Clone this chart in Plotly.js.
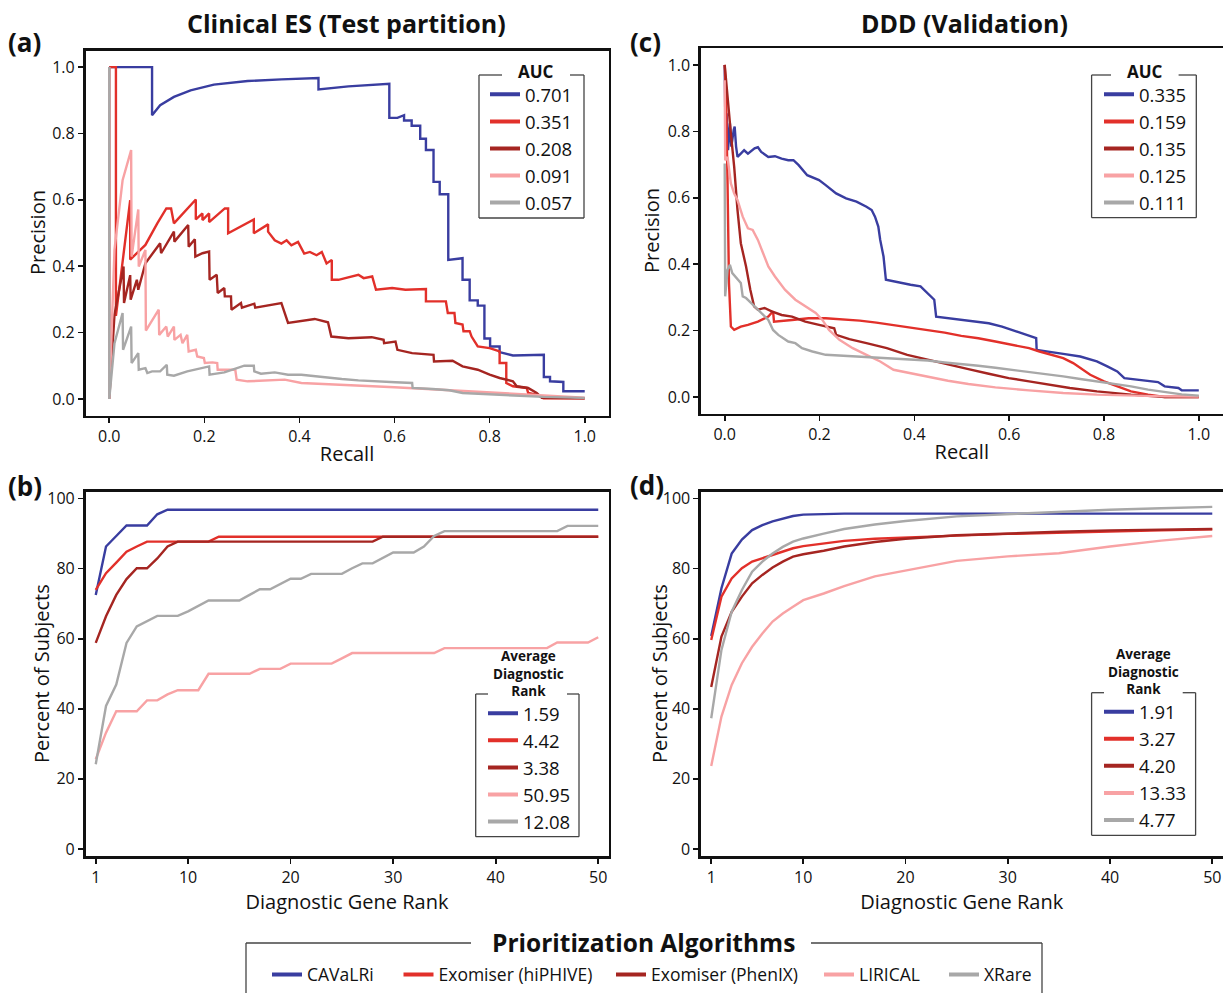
<!DOCTYPE html>
<html><head><meta charset="utf-8">
<script src="https://cdn.plot.ly/plotly-3.0.1.min.js"></script>
<style>html,body{margin:0;padding:0;background:#fff}#chart{width:1223px;height:993px}</style>
</head><body><div id="chart"></div>
<script>
// ---------- DATA ----------
const algorithms = ['CAVaLRi', 'Exomiser (hiPHIVE)', 'Exomiser (PhenIX)', 'LIRICAL', 'XRare'];

// (a) Clinical ES PR curves: [recall, precision]
const esPR_CAVaLRi = [[0,1.0],[0.090,1.0],[0.090,0.855],[0.107,0.885],[0.136,0.910],[0.171,0.930],[0.220,0.947],[0.291,0.958],[0.362,0.963],[0.440,0.967],[0.440,0.933],[0.503,0.942],[0.589,0.950],[0.589,0.847],[0.606,0.847],[0.620,0.855],[0.620,0.839],[0.636,0.839],[0.636,0.823],[0.654,0.823],[0.654,0.784],[0.666,0.784],[0.666,0.750],[0.682,0.750],[0.682,0.654],[0.695,0.654],[0.695,0.617],[0.713,0.617],[0.713,0.419],[0.743,0.424],[0.743,0.359],[0.758,0.359],[0.758,0.297],[0.775,0.297],[0.775,0.281],[0.789,0.281],[0.789,0.182],[0.801,0.182],[0.801,0.158],[0.821,0.158],[0.821,0.141],[0.849,0.131],[0.914,0.133],[0.914,0.066],[0.927,0.066],[0.927,0.053],[0.955,0.051],[0.955,0.023],[1.0,0.023]];
const esPR_hiPHIVE = [[0,1.0],[0.014,1.0],[0.014,0.25],[0.044,0.599],[0.044,0.42],[0.076,0.464],[0.101,0.529],[0.120,0.574],[0.130,0.574],[0.136,0.529],[0.182,0.601],[0.182,0.541],[0.196,0.559],[0.196,0.539],[0.210,0.559],[0.210,0.533],[0.243,0.574],[0.250,0.574],[0.250,0.499],[0.304,0.541],[0.304,0.499],[0.334,0.526],[0.334,0.504],[0.348,0.478],[0.362,0.468],[0.373,0.478],[0.383,0.463],[0.397,0.473],[0.410,0.438],[0.422,0.443],[0.436,0.433],[0.447,0.443],[0.457,0.408],[0.468,0.419],[0.468,0.359],[0.482,0.359],[0.524,0.374],[0.535,0.364],[0.553,0.369],[0.561,0.329],[0.595,0.334],[0.623,0.329],[0.666,0.331],[0.666,0.294],[0.708,0.294],[0.712,0.259],[0.726,0.259],[0.728,0.229],[0.743,0.224],[0.745,0.204],[0.758,0.204],[0.762,0.188],[0.775,0.158],[0.800,0.153],[0.821,0.143],[0.821,0.108],[0.835,0.108],[0.835,0.048],[0.849,0.038],[0.878,0.033],[0.881,0.018],[0.899,0.013],[0.913,0.002],[1.0,0.002]];
const esPR_PhenIX = [[0,1.0],[0,0],[0.011,0.254],[0.030,0.399],[0.031,0.289],[0.044,0.373],[0.045,0.299],[0.058,0.359],[0.061,0.329],[0.076,0.409],[0.107,0.469],[0.109,0.439],[0.136,0.504],[0.137,0.474],[0.166,0.524],[0.167,0.459],[0.180,0.481],[0.181,0.429],[0.196,0.439],[0.210,0.444],[0.211,0.359],[0.226,0.374],[0.228,0.319],[0.242,0.334],[0.243,0.309],[0.256,0.309],[0.257,0.269],[0.277,0.289],[0.279,0.275],[0.305,0.287],[0.307,0.275],[0.362,0.289],[0.376,0.229],[0.432,0.241],[0.460,0.231],[0.467,0.188],[0.503,0.183],[0.552,0.186],[0.577,0.178],[0.578,0.168],[0.602,0.173],[0.606,0.148],[0.637,0.138],[0.682,0.133],[0.683,0.113],[0.722,0.115],[0.743,0.098],[0.775,0.088],[0.800,0.073],[0.821,0.063],[0.849,0.053],[0.857,0.038],[0.881,0.033],[0.899,0.018],[0.910,0.003],[1.0,0.002]];
const esPR_LIRICAL = [[0,1.0],[0,0],[0.011,0.45],[0.028,0.659],[0.046,0.75],[0.047,0.429],[0.061,0.571],[0.062,0.399],[0.076,0.449],[0.077,0.206],[0.104,0.269],[0.105,0.193],[0.120,0.218],[0.123,0.188],[0.136,0.218],[0.137,0.178],[0.150,0.193],[0.154,0.168],[0.164,0.193],[0.167,0.143],[0.182,0.148],[0.185,0.128],[0.199,0.123],[0.201,0.108],[0.217,0.110],[0.227,0.108],[0.228,0.088],[0.265,0.088],[0.268,0.058],[0.291,0.053],[0.369,0.058],[0.404,0.048],[0.6,0.035],[0.8,0.02],[1.0,0.004]];
const esPR_XRare = [[0,1.0],[0,0],[0.011,0.168],[0.028,0.259],[0.029,0.148],[0.046,0.218],[0.047,0.108],[0.061,0.138],[0.062,0.088],[0.076,0.093],[0.080,0.078],[0.090,0.083],[0.107,0.083],[0.121,0.103],[0.122,0.073],[0.136,0.070],[0.164,0.083],[0.182,0.088],[0.210,0.098],[0.211,0.073],[0.242,0.080],[0.284,0.100],[0.304,0.100],[0.305,0.083],[0.319,0.076],[0.348,0.080],[0.376,0.073],[0.404,0.073],[0.447,0.066],[0.489,0.060],[0.524,0.056],[0.553,0.053],[0.602,0.050],[0.637,0.048],[0.638,0.033],[0.680,0.030],[0.715,0.026],[0.743,0.018],[0.821,0.013],[0.913,0.006],[1.0,0.003]];
const esAUC = ['0.701', '0.351', '0.208', '0.091', '0.057'];

// (c) DDD PR curves: [recall, precision]
const dddPR_CAVaLRi = [[0,1.0],[0.002,0.743],[0.004,0.854],[0.007,0.743],[0.011,0.824],[0.014,0.754],[0.019,0.804],[0.021,0.814],[0.024,0.754],[0.027,0.723],[0.034,0.733],[0.041,0.743],[0.049,0.733],[0.063,0.749],[0.070,0.752],[0.077,0.738],[0.092,0.723],[0.106,0.725],[0.120,0.718],[0.134,0.713],[0.145,0.713],[0.156,0.698],[0.174,0.668],[0.199,0.653],[0.213,0.638],[0.235,0.613],[0.256,0.598],[0.278,0.588],[0.299,0.573],[0.310,0.563],[0.317,0.543],[0.324,0.513],[0.328,0.473],[0.335,0.423],[0.340,0.353],[0.371,0.343],[0.392,0.338],[0.413,0.333],[0.428,0.313],[0.442,0.293],[0.446,0.242],[0.499,0.232],[0.535,0.227],[0.557,0.222],[0.585,0.212],[0.607,0.202],[0.628,0.192],[0.657,0.177],[0.658,0.142],[0.678,0.137],[0.714,0.130],[0.750,0.122],[0.785,0.107],[0.807,0.092],[0.828,0.077],[0.843,0.057],[0.878,0.052],[0.914,0.045],[0.928,0.032],[0.957,0.027],[0.964,0.020],[1.0,0.020]];
const dddPR_hiPHIVE = [[0,1.0],[0.003,0.894],[0.006,0.643],[0.009,0.343],[0.013,0.212],[0.020,0.202],[0.034,0.212],[0.049,0.217],[0.070,0.227],[0.092,0.242],[0.102,0.258],[0.104,0.227],[0.142,0.232],[0.177,0.237],[0.213,0.237],[0.249,0.234],[0.285,0.230],[0.320,0.224],[0.356,0.217],[0.392,0.210],[0.428,0.202],[0.464,0.194],[0.499,0.184],[0.535,0.177],[0.571,0.167],[0.607,0.157],[0.642,0.147],[0.664,0.137],[0.714,0.117],[0.735,0.102],[0.750,0.087],[0.771,0.067],[0.800,0.047],[0.828,0.032],[0.857,0.017],[0.893,0.007],[0.928,0.0],[1.0,0.0]];
const dddPR_PhenIX = [[0,1.0],[0.006,0.894],[0.013,0.794],[0.020,0.693],[0.027,0.563],[0.034,0.463],[0.045,0.393],[0.054,0.323],[0.062,0.273],[0.070,0.263],[0.084,0.268],[0.099,0.258],[0.120,0.247],[0.142,0.242],[0.170,0.227],[0.199,0.217],[0.231,0.207],[0.235,0.187],[0.263,0.174],[0.299,0.162],[0.342,0.147],[0.385,0.127],[0.428,0.112],[0.471,0.097],[0.514,0.084],[0.557,0.070],[0.599,0.057],[0.642,0.047],[0.685,0.037],[0.728,0.027],[0.785,0.017],[0.857,0.007],[0.928,0.0],[1.0,0.0]];
const dddPR_LIRICAL = [[0,0.954],[0.001,0.713],[0.006,0.723],[0.013,0.643],[0.020,0.613],[0.027,0.593],[0.038,0.543],[0.049,0.508],[0.059,0.503],[0.070,0.473],[0.081,0.433],[0.092,0.393],[0.106,0.363],[0.127,0.323],[0.149,0.293],[0.170,0.273],[0.192,0.253],[0.206,0.232],[0.220,0.202],[0.242,0.172],[0.270,0.147],[0.299,0.127],[0.328,0.107],[0.356,0.082],[0.392,0.072],[0.428,0.060],[0.471,0.049],[0.514,0.039],[0.571,0.029],[0.642,0.020],[0.714,0.012],[0.785,0.007],[0.857,0.004],[0.928,0.002],[1.0,0.001]];
const dddPR_XRare = [[0,0.703],[0.001,0.303],[0.006,0.383],[0.011,0.398],[0.016,0.373],[0.027,0.353],[0.034,0.343],[0.038,0.303],[0.045,0.298],[0.056,0.283],[0.070,0.263],[0.092,0.232],[0.102,0.202],[0.113,0.187],[0.134,0.167],[0.149,0.162],[0.163,0.147],[0.185,0.137],[0.213,0.127],[0.249,0.124],[0.285,0.120],[0.320,0.117],[0.356,0.115],[0.392,0.112],[0.428,0.110],[0.464,0.104],[0.499,0.100],[0.535,0.094],[0.571,0.088],[0.607,0.082],[0.642,0.076],[0.678,0.070],[0.714,0.062],[0.750,0.054],[0.785,0.047],[0.821,0.040],[0.857,0.032],[0.893,0.022],[0.928,0.014],[0.964,0.008],[1.0,0.004]];
const dddAUC = ['0.335', '0.159', '0.135', '0.125', '0.111'];

// (b) Clinical ES: percent of subjects with diagnostic gene at or above rank
const esRanks = [1,2,3,4,5,6,7,8,9,10,11,12,13,14,15,16,17,18,19,20,21,22,23,24,25,26,27,28,29,30,31,32,33,34,35,36,37,38,39,40,41,42,43,44,45,46,47,48,49,50];
const esTopK_CAVaLRi = [72.5,86.3,89.3,92.3,92.3,92.3,95.5,96.8,96.8,96.8,96.8,96.8,96.8,96.8,96.8,96.8,96.8,96.8,96.8,96.8,96.8,96.8,96.8,96.8,96.8,96.8,96.8,96.8,96.8,96.8,96.8,96.8,96.8,96.8,96.8,96.8,96.8,96.8,96.8,96.8,96.8,96.8,96.8,96.8,96.8,96.8,96.8,96.8,96.8,96.8];
const esTopK_hiPHIVE = [73.9,78.7,81.7,84.8,86.3,87.7,87.7,87.7,87.7,87.7,87.7,87.7,89.1,89.1,89.1,89.1,89.1,89.1,89.1,89.1,89.1,89.1,89.1,89.1,89.1,89.1,89.1,89.1,89.1,89.1,89.1,89.1,89.1,89.1,89.1,89.1,89.1,89.1,89.1,89.1,89.1,89.1,89.1,89.1,89.1,89.1,89.1,89.1,89.1,89.1];
const esTopK_PhenIX = [58.8,66.4,72.5,77.0,80.1,80.1,82.9,86.3,87.7,87.7,87.7,87.7,87.7,87.7,87.7,87.7,87.7,87.7,87.7,87.7,87.7,87.7,87.7,87.7,87.7,87.7,87.7,87.7,89.1,89.1,89.1,89.1,89.1,89.1,89.1,89.1,89.1,89.1,89.1,89.1,89.1,89.1,89.1,89.1,89.1,89.1,89.1,89.1,89.1,89.1];
const esTopK_LIRICAL = [25.6,33.2,39.3,39.3,39.3,42.4,42.4,44.1,45.3,45.3,45.3,50.0,50.0,50.0,50.0,50.0,51.4,51.4,51.4,52.9,52.9,52.9,52.9,52.9,54.4,55.9,55.9,55.9,55.9,55.9,55.9,55.9,55.9,55.9,57.3,57.3,57.3,57.3,57.3,57.3,57.3,57.3,57.3,57.3,57.3,58.9,58.9,58.9,58.9,60.4];
const esTopK_XRare = [24.2,40.8,46.9,58.8,63.5,64.9,66.5,66.5,66.5,67.8,69.4,70.9,70.9,70.9,70.9,72.5,74.1,74.1,75.6,77.1,77.1,78.5,78.5,78.5,78.5,80.1,81.5,81.5,83.1,84.6,84.6,84.6,86.3,89.3,90.7,90.7,90.7,90.7,90.7,90.7,90.7,90.7,90.7,90.7,90.7,90.7,92.2,92.2,92.2,92.2];
const esAvgRank = ['1.59', '4.42', '3.38', '50.95', '12.08'];

// (d) DDD: percent of subjects with diagnostic gene at or above rank
const dddRanks = [1,2,3,4,5,6,7,8,9,10,12,14,17,20,25,30,35,40,45,50];
const dddTopK_CAVaLRi = [60.8,74.4,84.3,88.3,91.0,92.4,93.5,94.3,95.0,95.4,95.6,95.7,95.7,95.7,95.7,95.7,95.7,95.7,95.7,95.7];
const dddTopK_hiPHIVE = [59.6,72.0,77.2,80.1,82.0,82.9,83.9,84.8,85.8,86.4,87.2,87.9,88.5,88.9,89.4,89.9,90.3,90.6,90.9,91.2];
const dddTopK_PhenIX = [46.2,60.6,67.7,72.0,75.8,78.2,80.3,82.0,83.4,84.1,85.1,86.3,87.6,88.5,89.5,90.1,90.5,90.9,91.1,91.3];
const dddTopK_LIRICAL = [23.7,37.8,46.8,53.0,57.7,61.5,64.9,67.2,69.1,71.0,72.9,75.0,77.8,79.5,82.2,83.5,84.4,86.3,88.0,89.3];
const dddTopK_XRare = [37.3,56.8,67.7,73.9,79.1,82.0,84.3,86.2,87.7,88.6,90.0,91.3,92.6,93.6,94.9,95.6,96.2,96.8,97.2,97.6];
const dddAvgRank = ['1.91', '3.27', '4.20', '13.33', '4.77'];

// ---------- STYLE ----------
const colors = ['#393da0', '#e2302a', '#a52521', '#f8a2a4', '#a8a8a8'];
const FONT = '"Open Sans", "Noto Sans", "DejaVu Sans", sans-serif';
const LW = 2.4, LEGLW = 4;
const W = 1223, H = 993;
const X = p => p / W, Y = p => 1 - p / H;

const traces = [];
const esPR = [esPR_CAVaLRi, esPR_hiPHIVE, esPR_PhenIX, esPR_LIRICAL, esPR_XRare];
const dddPR = [dddPR_CAVaLRi, dddPR_hiPHIVE, dddPR_PhenIX, dddPR_LIRICAL, dddPR_XRare];
const esTopK = [esTopK_CAVaLRi, esTopK_hiPHIVE, esTopK_PhenIX, esTopK_LIRICAL, esTopK_XRare];
const dddTopK = [dddTopK_CAVaLRi, dddTopK_hiPHIVE, dddTopK_PhenIX, dddTopK_LIRICAL, dddTopK_XRare];

function line(x, y, i, name, xa, ya) {
  return {type: 'scatter', mode: 'lines', x: x, y: y, name: name, showlegend: false,
    xaxis: xa, yaxis: ya, hoverinfo: 'skip', line: {color: colors[i], width: LW}};
}
// legend-only entry (no data points), thicker swatch like the reference
function key(i, name, xa, ya, leg) {
  return {type: 'scatter', mode: 'lines', x: [null], y: [null], name: name, showlegend: true,
    xaxis: xa, yaxis: ya, legend: leg, hoverinfo: 'skip', line: {color: colors[i], width: LEGLW}};
}
esPR.forEach((s, i) => traces.push(line(s.map(p => p[0]), s.map(p => p[1]), i, algorithms[i], 'x', 'y')));
dddPR.forEach((s, i) => traces.push(line(s.map(p => p[0]), s.map(p => p[1]), i, algorithms[i], 'x2', 'y2')));
esTopK.forEach((s, i) => traces.push(line(esRanks, s, i, algorithms[i], 'x3', 'y3')));
dddTopK.forEach((s, i) => traces.push(line(dddRanks, s, i, algorithms[i], 'x4', 'y4')));
esAUC.forEach((v, i) => traces.push(key(i, v, 'x', 'y', 'legend')));
dddAUC.forEach((v, i) => traces.push(key(i, v, 'x2', 'y2', 'legend2')));
esAvgRank.forEach((v, i) => traces.push(key(i, v, 'x3', 'y3', 'legend3')));
dddAvgRank.forEach((v, i) => traces.push(key(i, v, 'x4', 'y4', 'legend4')));
algorithms.forEach((a, i) => traces.push(key(i, a, 'x', 'y', 'legend' + (5 + i))));

const axBase = {showline: true, mirror: true, linecolor: '#111', linewidth: 2.6,
  ticks: 'outside', ticklen: 5, tickwidth: 1.6, tickcolor: '#111',
  showgrid: false, zeroline: false, fixedrange: true,
  tickfont: {family: FONT, size: 16, color: '#111'}};
const ttl = (t, st) => ({text: t, font: {family: FONT, size: 20, color: '#111'}, standoff: st});
const prTicks = [0, 0.2, 0.4, 0.6, 0.8, 1.0];

const layout = {
  width: W, height: H, margin: {l: 0, r: 0, t: 0, b: 0},
  paper_bgcolor: '#fff', plot_bgcolor: '#fff',
  font: {family: FONT, color: '#111'},
  xaxis: Object.assign({}, axBase, {domain: [X(85.5), X(608.5)], range: [-0.05, 1.05], tickvals: prTicks, tickformat: '.1f', anchor: 'y', title: ttl('Recall', 1)}),
  yaxis: Object.assign({}, axBase, {domain: [Y(415.5), Y(50.5)], range: [-0.05, 1.05], tickvals: prTicks, tickformat: '.1f', anchor: 'x'}),
  xaxis2: Object.assign({}, axBase, {domain: [X(701), X(1222.5)], range: [-0.05, 1.05], tickvals: prTicks, tickformat: '.1f', anchor: 'y2', title: ttl('Recall', 1)}),
  yaxis2: Object.assign({}, axBase, {domain: [Y(413.6), Y(48.3)], range: [-0.05, 1.05], tickvals: prTicks, tickformat: '.1f', anchor: 'x2'}),
  xaxis3: Object.assign({}, axBase, {domain: [X(85.5), X(608.5)], range: [0, 51], tickvals: [1, 10, 20, 30, 40, 50], anchor: 'y3', title: ttl('Diagnostic Gene Rank', 0)}),
  yaxis3: Object.assign({}, axBase, {domain: [Y(856), Y(491.5)], range: [-2, 102], tickvals: [0, 20, 40, 60, 80, 100], anchor: 'x3'}),
  xaxis4: Object.assign({}, axBase, {domain: [X(701), X(1222.5)], range: [0, 51], tickvals: [1, 10, 20, 30, 40, 50], anchor: 'y4', title: ttl('Diagnostic Gene Rank', 0)}),
  yaxis4: Object.assign({}, axBase, {domain: [Y(856), Y(491.5)], range: [-2, 102], tickvals: [0, 20, 40, 60, 80, 100], anchor: 'x4'}),
  showlegend: true
};

const legBase = {xanchor: 'left', yanchor: 'top', bgcolor: 'rgba(0,0,0,0)', borderwidth: 0, tracegroupgap: 0,
  font: {family: FONT, size: 18.5, color: '#111'}, itemclick: false, itemdoubleclick: false};
layout.legend = Object.assign({}, legBase, {x: X(485), y: Y(75.8)});
layout.legend2 = Object.assign({}, legBase, {x: X(1099), y: Y(75.8)});
layout.legend3 = Object.assign({}, legBase, {x: X(483), y: Y(694.8)});
layout.legend4 = Object.assign({}, legBase, {x: X(1099), y: Y(693.2)});
const bottomX = [267, 398.5, 611, 819, 944];
bottomX.forEach((bx, i) => {
  layout['legend' + (5 + i)] = Object.assign({}, legBase, {x: X(bx), y: Y(956.5),
    font: {family: FONT, size: 17.5, color: '#111'}});
});

// legend frames with the title breaking the top border
function frame(l, r, t, b, g1, g2) {
  const s = {type: 'line', xref: 'paper', yref: 'paper', line: {color: '#444', width: 1.3}};
  return [
    Object.assign({}, s, {x0: X(l), x1: X(g1), y0: Y(t), y1: Y(t)}),
    Object.assign({}, s, {x0: X(g2), x1: X(r), y0: Y(t), y1: Y(t)}),
    Object.assign({}, s, {x0: X(l), x1: X(l), y0: Y(t), y1: Y(b)}),
    Object.assign({}, s, {x0: X(r), x1: X(r), y0: Y(t), y1: Y(b)}),
    Object.assign({}, s, {x0: X(l), x1: X(r), y0: Y(b), y1: Y(b)})
  ];
}
layout.shapes = [].concat(
  frame(479, 584, 75, 218, 502, 570),
  frame(1091.6, 1196.3, 75, 217.7, 1111, 1178.6),
  frame(475.7, 579, 694, 836.7, 488, 567),
  frame(1091.6, 1195.6, 692.7, 835.3, 1104, 1182.7),
  frame(246, 1042, 943, 1010, 471, 811)
);

function ann(text, x, y, size, anchor, angle) {
  return {text: text, x: X(x), y: Y(y), xref: 'paper', yref: 'paper', showarrow: false,
    xanchor: anchor || 'center', yanchor: 'middle', textangle: angle || 0,
    font: {family: FONT, size: size, color: '#111'}};
}
layout.annotations = [
  ann('<b>Clinical ES (Test partition)</b>', 346, 23, 25),
  ann('<b>DDD (Validation)</b>', 964, 23, 25),
  ann('<b>(a)</b>', 6, 42, 26, 'left'),
  ann('<b>(b)</b>', 6, 486, 26, 'left'),
  ann('<b>(c)</b>', 628, 42, 26, 'left'),
  ann('<b>(d)</b>', 628, 485, 26, 'left'),
  ann('Precision', 37, 233, 20, 'center', -90),
  ann('Precision', 652, 231, 20, 'center', -90),
  ann('Percent of Subjects', 41, 674, 20, 'center', -90),
  ann('Percent of Subjects', 659, 674, 20, 'center', -90),
  ann('<b>AUC</b>', 536, 71.7, 17),
  ann('<b>AUC</b>', 1145, 71.7, 17),
  ann('<b>Average<br>Diagnostic<br>Rank</b>', 528, 673, 13.5),
  ann('<b>Average<br>Diagnostic<br>Rank</b>', 1143.5, 671.5, 13.5),
  ann('<b>Prioritization Algorithms</b>', 643, 942, 24.5)
];

Plotly.newPlot('chart', traces, layout, {staticPlot: true, displayModeBar: false});
</script></body></html>
